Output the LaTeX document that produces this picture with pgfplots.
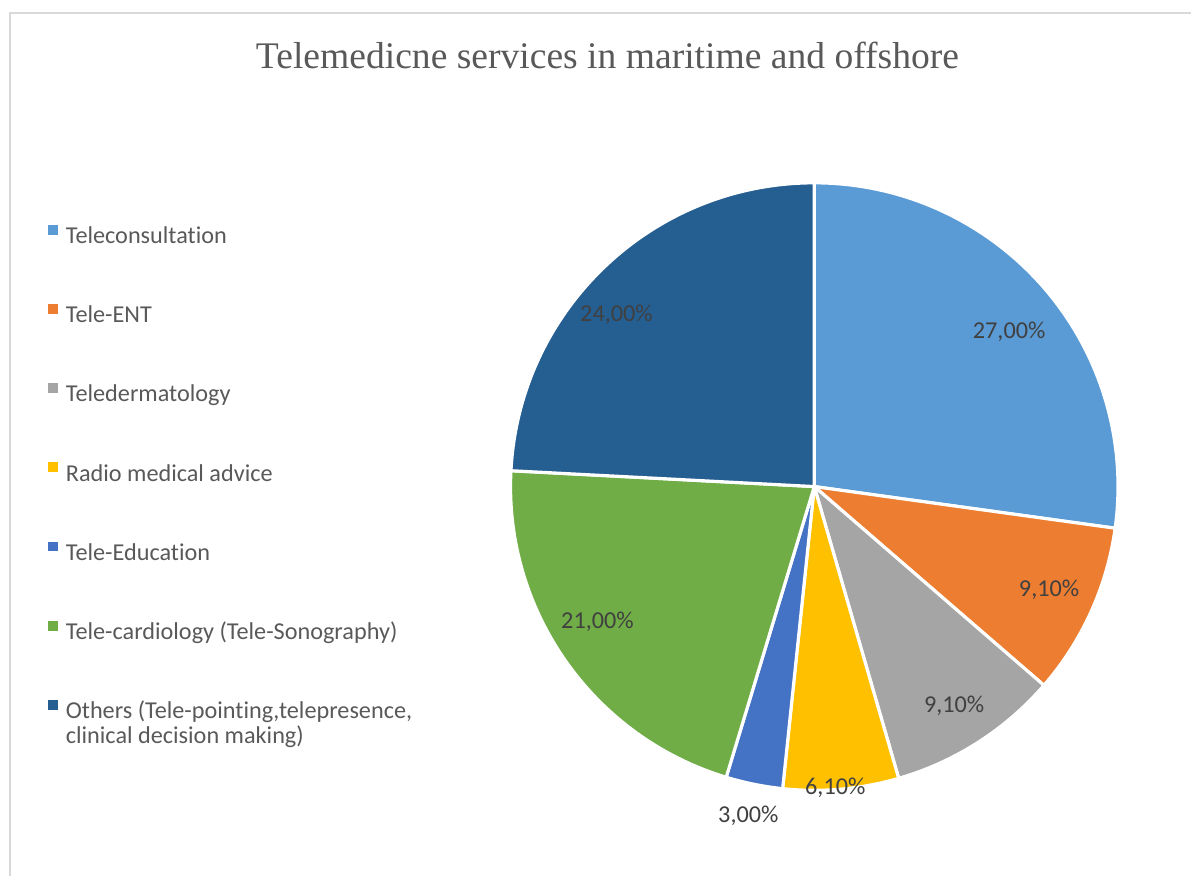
\documentclass[border=0pt]{standalone}
\usepackage{fontspec}
\setmainfont{Carlito}[Ligatures=NoCommon]
\newfontfamily\titlefont{Liberation Serif}
\usepackage{pgfplots}
\pgfplotsset{compat=1.18}

\definecolor{c1}{HTML}{5B9BD5}
\definecolor{c2}{HTML}{ED7D31}
\definecolor{c3}{HTML}{A5A5A5}
\definecolor{c4}{HTML}{FFC000}
\definecolor{c5}{HTML}{4472C4}
\definecolor{c6}{HTML}{70AD47}
\definecolor{c7}{HTML}{255E91}
\definecolor{txt}{HTML}{595959}
\definecolor{lbl}{HTML}{404040}
\definecolor{frame}{HTML}{D9D9D9}

% pie centre and radius in axis units (1 unit = 0.1mm)
\def\cx{815}
\def\cy{390}
\def\rad{304}
\pgfmathsetmacro\total{27+9.1+9.1+6.1+3+21+24}
\def\cum{90}

% #1 value, #2 colour, #3 legend text, #4/#5 label position
\newcommand\slice[5]{%
  \pgfmathsetmacro\angA{\cum}%
  \pgfmathsetmacro\angB{\cum-#1/\total*360}%
  \pgfmathsetmacro\xs{\cx+\rad*cos(\angA)}%
  \pgfmathsetmacro\ys{\cy+\rad*sin(\angA)}%
  \edef\doslice{\noexpand\addplot[fill=#2, draw=white, line width=0.9pt, line join=round]
    coordinates {(\cx,\cy) (\xs,\ys)}
    arc[start angle=\angA, end angle=\angB, radius=30.4mm] -- cycle;}%
  \doslice
  \addlegendentry{#3}
  \node[font=\fontsize{6.9}{8}\selectfont, text=lbl, inner sep=0pt]
    at (axis cs:#4,#5) {\pgfmathprintnumber[fixed,fixed zerofill,precision=2,use comma,assume math mode=true]{#1}\%};
  \global\let\cum\angB
}

\begin{document}
\begin{tikzpicture}
\begin{axis}[
  x=0.1mm, y=0.1mm,
  xmin=0, xmax=1192, ymin=0, ymax=877,
  hide axis, clip=false,
  legend image code/.code={\fill[#1, draw=none] (0pt,0.8pt) rectangle (2.8pt,3.6pt);},
  legend cell align=left,
  legend style={at={(axis cs:48,652)}, anchor=north west, draw=none, fill=none,
    inner sep=0pt, outer sep=0pt, row sep=15.7pt,
    /tikz/every odd column/.style={column sep=2.3pt},
    nodes={text height=5pt, text depth=1.5pt, inner sep=0pt, text=txt,
      font=\fontsize{6.9}{7.1}\selectfont}},
]
\path (axis cs:0,0) (axis cs:1192,877);
\draw[frame, line width=0.6pt] (axis cs:10,0) -- (axis cs:10,864) -- (axis cs:1192,864);
\node[anchor=base, text=txt, font=\titlefont\fontsize{10.7}{12}\selectfont]
  at (axis cs:608,808) {Telemedicne services in maritime and offshore};

\slice{27}{c1}{Teleconsultation}{1010}{545}
\slice{9.1}{c2}{Tele-ENT}{1050}{287}
\slice{9.1}{c3}{Teledermatology}{955}{171}
\slice{6.1}{c4}{Radio medical advice}{836}{89}
\slice{3}{c5}{Tele-Education}{749}{60}
\slice{21}{c6}{Tele-cardiology (Tele-Sonography)}{598}{255}
\slice{24}{c7}{\vtop{\hbox{Others (Tele-pointing,telepresence,}\hbox{clinical decision making)}}}{617}{562}
\end{axis}
\end{tikzpicture}
\end{document}
